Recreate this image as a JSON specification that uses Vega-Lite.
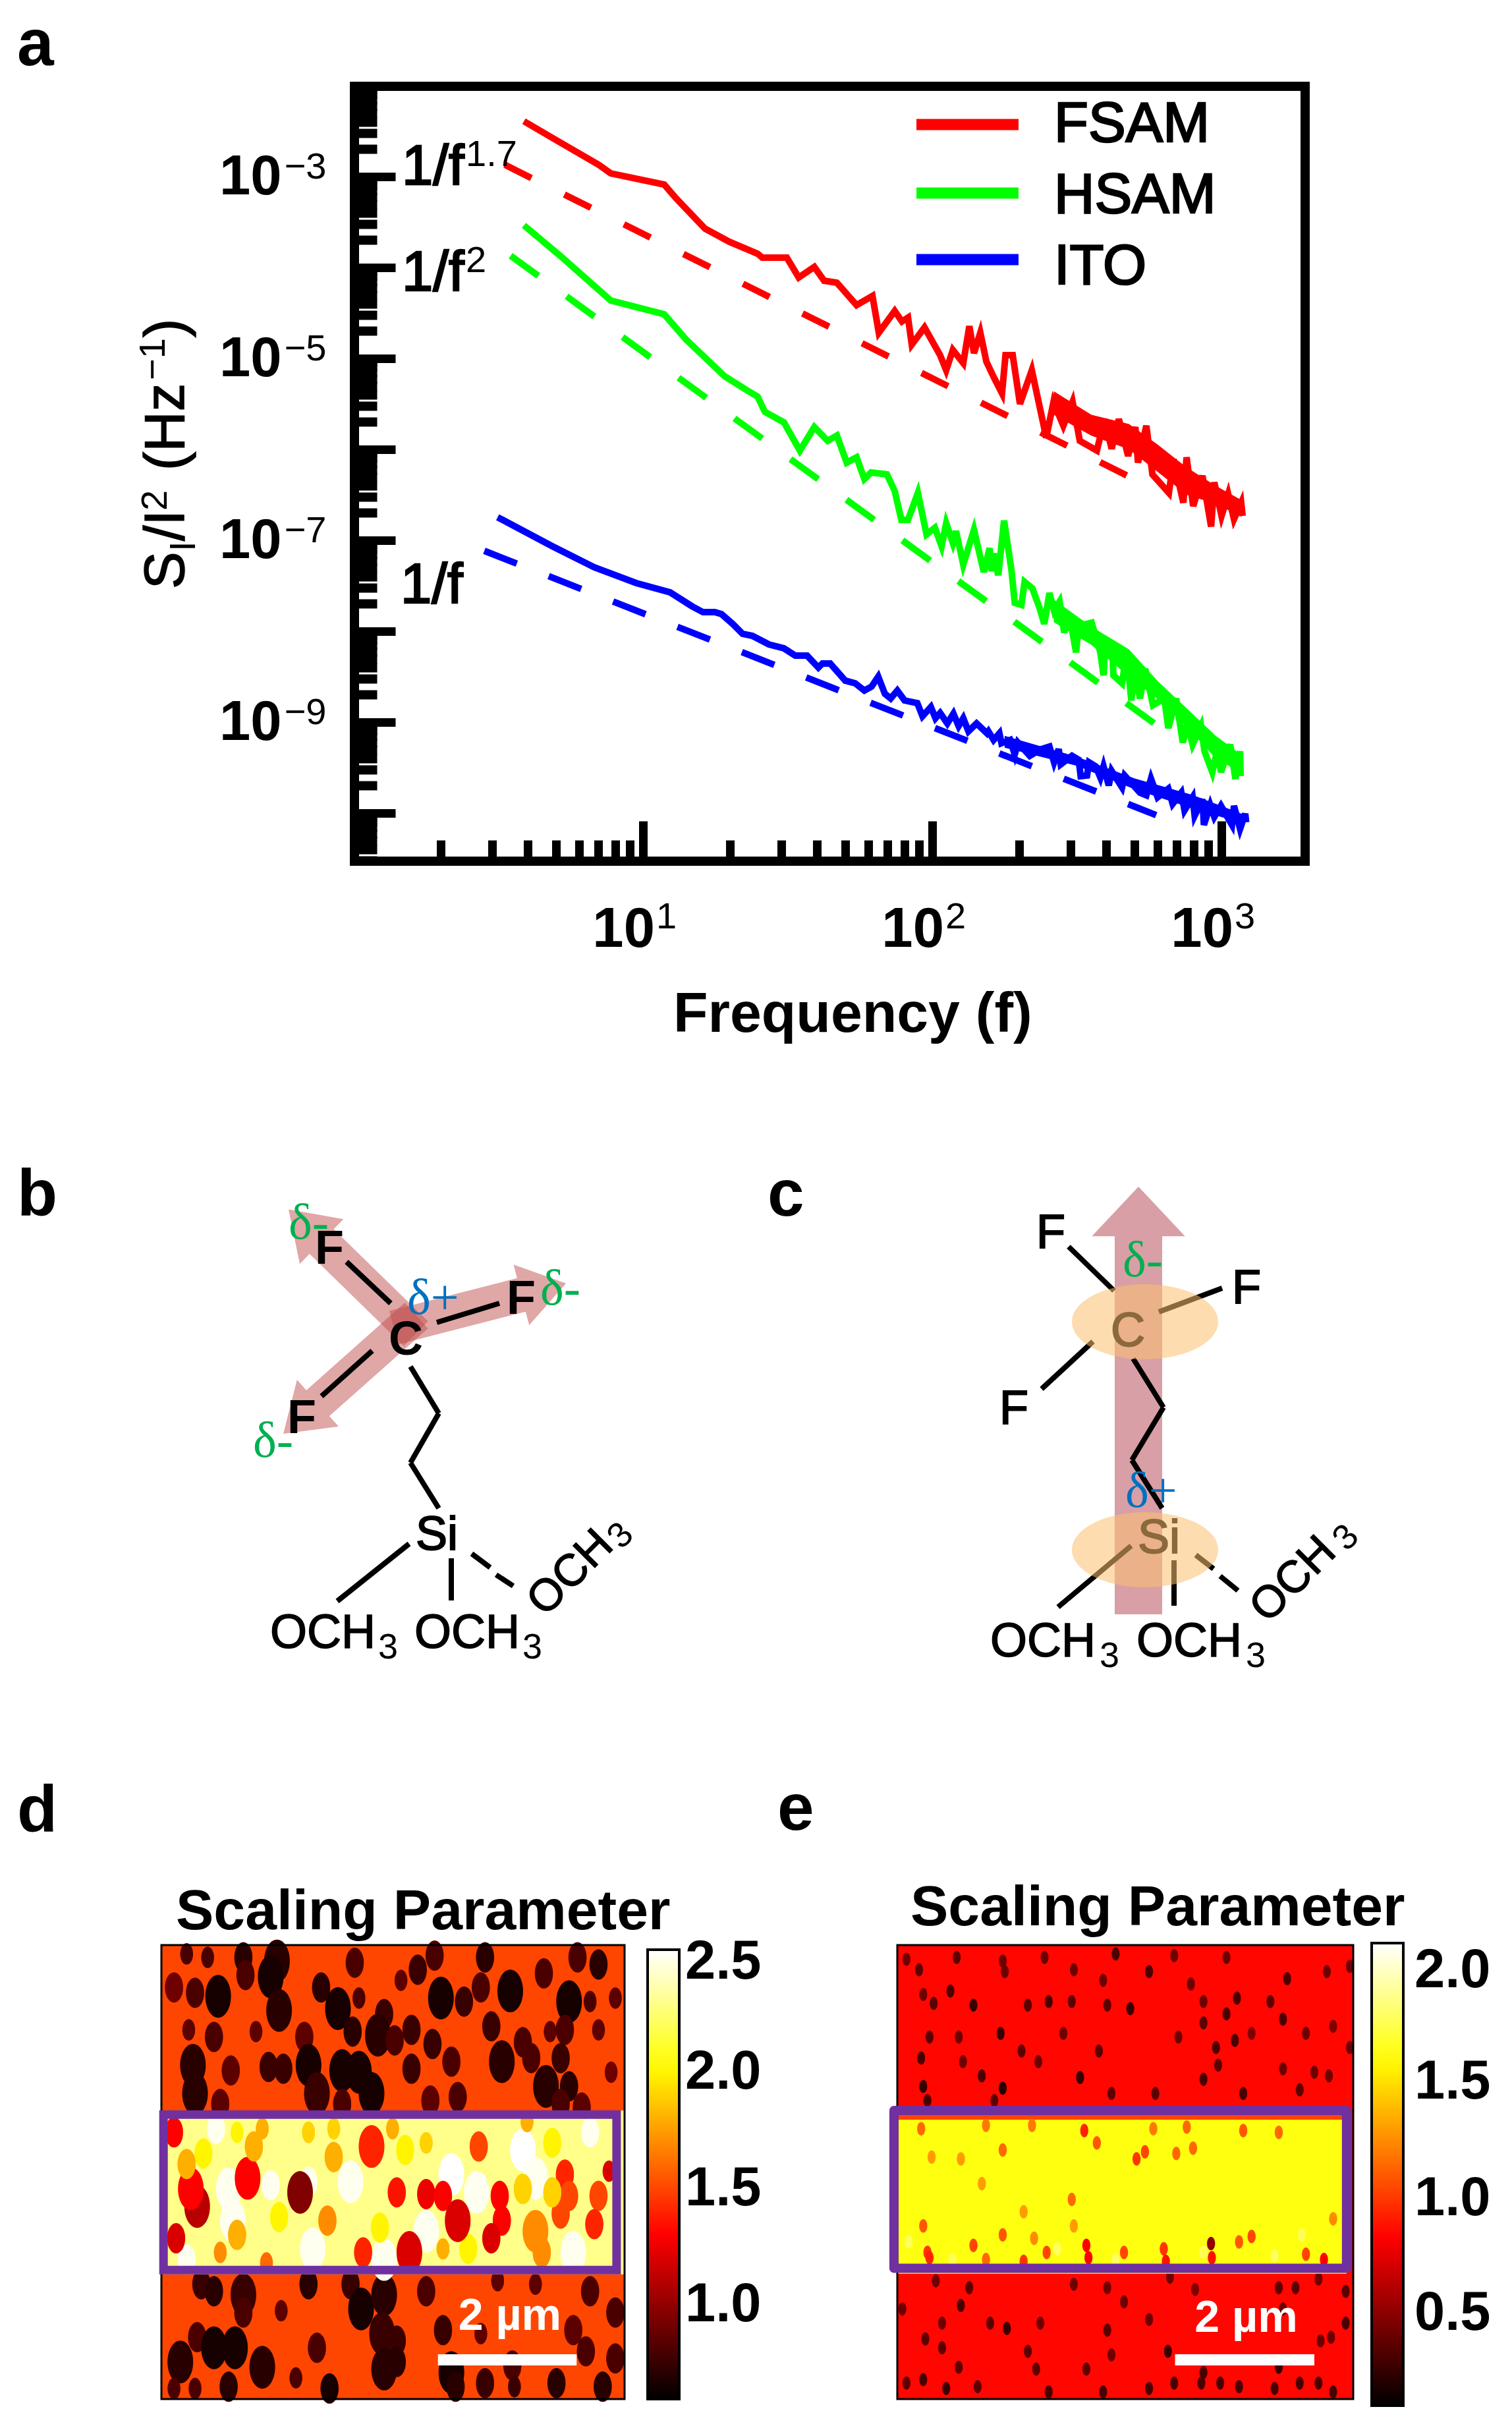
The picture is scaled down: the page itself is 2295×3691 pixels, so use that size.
{
"$schema":"https://vega.github.io/schema/vega-lite/v6.json",
"description":"Noise spectra, SAM dipole schematics and scaling parameter maps",
"width":2295,"height":3691,"padding":0,
"autosize":{"type":"fit","contains":"padding"},
"background":"white",
"config":{"font":"Liberation Sans","view":{"stroke":null}},
"datasets":{
"spectra":[
{"series":"FSAM","lf":0.588,"ls":-2.391},{"series":"FSAM","lf":0.697,"ls":-2.594},{"series":"FSAM","lf":0.847,"ls":-2.87},{"series":"FSAM","lf":0.888,"ls":-2.964},{"series":"FSAM","lf":1.073,"ls":-3.087},{"series":"FSAM","lf":1.114,"ls":-3.239},{"series":"FSAM","lf":1.214,"ls":-3.572},{"series":"FSAM","lf":1.298,"ls":-3.717},{"series":"FSAM","lf":1.396,"ls":-3.848},{"series":"FSAM","lf":1.412,"ls":-3.891},{"series":"FSAM","lf":1.497,"ls":-3.891},{"series":"FSAM","lf":1.538,"ls":-4.109},{"series":"FSAM","lf":1.592,"ls":-3.993},{"series":"FSAM","lf":1.626,"ls":-4.145},{"series":"FSAM","lf":1.67,"ls":-4.167},{"series":"FSAM","lf":1.738,"ls":-4.413},{"series":"FSAM","lf":1.793,"ls":-4.312},{"series":"FSAM","lf":1.815,"ls":-4.717},{"series":"FSAM","lf":1.87,"ls":-4.478},{"series":"FSAM","lf":1.895,"ls":-4.594},{"series":"FSAM","lf":1.916,"ls":-4.551},{"series":"FSAM","lf":1.929,"ls":-4.848},{"series":"FSAM","lf":1.973,"ls":-4.659},{"series":"FSAM","lf":2.027,"ls":-4.964},{"series":"FSAM","lf":2.048,"ls":-5.13},{"series":"FSAM","lf":2.071,"ls":-4.906},{"series":"FSAM","lf":2.107,"ls":-5.051},{"series":"FSAM","lf":2.128,"ls":-4.645},{"series":"FSAM","lf":2.144,"ls":-4.942},{"series":"FSAM","lf":2.166,"ls":-4.717},{"series":"FSAM","lf":2.187,"ls":-5.036},{"series":"FSAM","lf":2.212,"ls":-5.203},{"series":"FSAM","lf":2.241,"ls":-5.384},{"series":"FSAM","lf":2.253,"ls":-4.964},{"series":"FSAM","lf":2.278,"ls":-4.964},{"series":"FSAM","lf":2.303,"ls":-5.5},{"series":"FSAM","lf":2.344,"ls":-5.13},{"series":"FSAM","lf":2.369,"ls":-5.5},{"series":"FSAM","lf":2.394,"ls":-5.87},{"series":"FSAM","lf":2.419,"ls":-5.478},{"series":"FSAM","lf":2.453,"ls":-5.739},{"series":"FSAM","lf":2.485,"ls":-5.478},{"series":"FSAM","lf":2.51,"ls":-5.906},{"series":"FSAM","lf":2.569,"ls":-6.014},{"series":"FSAM","lf":2.595,"ls":-5.667},{"series":"FSAM","lf":2.62,"ls":-5.993},{"series":"FSAM","lf":2.645,"ls":-5.667},{"series":"FSAM","lf":2.677,"ls":-6.072},{"series":"FSAM","lf":2.702,"ls":-5.754},{"series":"FSAM","lf":2.711,"ls":-6.145},{"series":"FSAM","lf":2.74,"ls":-5.739},{"series":"FSAM","lf":2.761,"ls":-6.275},{"series":"FSAM","lf":2.818,"ls":-6.478},{"series":"FSAM","lf":2.834,"ls":-6.109},{"series":"FSAM","lf":2.868,"ls":-6.587},{"series":"FSAM","lf":2.879,"ls":-6.087},{"series":"FSAM","lf":2.902,"ls":-6.623},{"series":"FSAM","lf":2.934,"ls":-6.29},{"series":"FSAM","lf":2.964,"ls":-6.848},{"series":"FSAM","lf":2.975,"ls":-6.362},{"series":"FSAM","lf":3.0,"ls":-6.732},{"series":"FSAM","lf":3.023,"ls":-6.493},{"series":"FSAM","lf":3.043,"ls":-6.768},{"series":"FSAM","lf":3.068,"ls":-6.587},{"series":"FSAM","lf":3.073,"ls":-6.732},
{"series":"HSAM","lf":0.588,"ls":-3.536},{"series":"HSAM","lf":0.713,"ls":-3.87},{"series":"HSAM","lf":0.888,"ls":-4.362},{"series":"HSAM","lf":1.073,"ls":-4.514},{"series":"HSAM","lf":1.148,"ls":-4.79},{"series":"HSAM","lf":1.282,"ls":-5.196},{"series":"HSAM","lf":1.358,"ls":-5.348},{"series":"HSAM","lf":1.396,"ls":-5.42},{"series":"HSAM","lf":1.421,"ls":-5.587},{"series":"HSAM","lf":1.487,"ls":-5.703},{"series":"HSAM","lf":1.542,"ls":-6.014},{"series":"HSAM","lf":1.592,"ls":-5.754},{"series":"HSAM","lf":1.638,"ls":-5.906},{"series":"HSAM","lf":1.67,"ls":-5.848},{"series":"HSAM","lf":1.704,"ls":-6.145},{"series":"HSAM","lf":1.738,"ls":-6.087},{"series":"HSAM","lf":1.765,"ls":-6.326},{"series":"HSAM","lf":1.788,"ls":-6.254},{"series":"HSAM","lf":1.843,"ls":-6.275},{"series":"HSAM","lf":1.87,"ls":-6.457},{"series":"HSAM","lf":1.893,"ls":-6.775},{"series":"HSAM","lf":1.916,"ls":-6.775},{"series":"HSAM","lf":1.95,"ls":-6.478},{"series":"HSAM","lf":1.98,"ls":-6.935},{"series":"HSAM","lf":2.009,"ls":-6.862},{"series":"HSAM","lf":2.032,"ls":-7.065},{"series":"HSAM","lf":2.048,"ls":-6.812},{"series":"HSAM","lf":2.071,"ls":-7.029},{"series":"HSAM","lf":2.082,"ls":-6.899},{"series":"HSAM","lf":2.107,"ls":-7.268},{"series":"HSAM","lf":2.144,"ls":-6.884},{"series":"HSAM","lf":2.178,"ls":-7.348},{"series":"HSAM","lf":2.198,"ls":-7.087},{"series":"HSAM","lf":2.205,"ls":-7.341},{"series":"HSAM","lf":2.212,"ls":-7.145},{"series":"HSAM","lf":2.228,"ls":-7.384},{"series":"HSAM","lf":2.248,"ls":-6.783},{"series":"HSAM","lf":2.273,"ls":-7.312},{"series":"HSAM","lf":2.28,"ls":-7.529},{"series":"HSAM","lf":2.285,"ls":-7.688},{"series":"HSAM","lf":2.308,"ls":-7.71},{"series":"HSAM","lf":2.319,"ls":-7.457},{"series":"HSAM","lf":2.346,"ls":-7.529},{"series":"HSAM","lf":2.371,"ls":-7.746},{"series":"HSAM","lf":2.387,"ls":-7.92},{"series":"HSAM","lf":2.405,"ls":-7.58},{"series":"HSAM","lf":2.421,"ls":-7.775},{"series":"HSAM","lf":2.44,"ls":-7.674},{"series":"HSAM","lf":2.456,"ls":-8.014},{"series":"HSAM","lf":2.474,"ls":-7.819},{"series":"HSAM","lf":2.497,"ls":-8.232},{"series":"HSAM","lf":2.506,"ls":-7.942},{"series":"HSAM","lf":2.551,"ls":-7.906},{"series":"HSAM","lf":2.581,"ls":-8.232},{"series":"HSAM","lf":2.592,"ls":-8.486},{"series":"HSAM","lf":2.599,"ls":-8.109},{"series":"HSAM","lf":2.622,"ls":-8.138},{"series":"HSAM","lf":2.626,"ls":-8.486},{"series":"HSAM","lf":2.656,"ls":-8.572},{"series":"HSAM","lf":2.672,"ls":-8.232},{"series":"HSAM","lf":2.688,"ls":-8.761},{"series":"HSAM","lf":2.699,"ls":-8.428},{"series":"HSAM","lf":2.718,"ls":-8.739},{"series":"HSAM","lf":2.736,"ls":-8.413},{"series":"HSAM","lf":2.763,"ls":-8.812},{"series":"HSAM","lf":2.802,"ls":-8.739},{"series":"HSAM","lf":2.816,"ls":-9.065},{"series":"HSAM","lf":2.843,"ls":-8.739},{"series":"HSAM","lf":2.866,"ls":-9.225},{"series":"HSAM","lf":2.882,"ls":-9.007},{"series":"HSAM","lf":2.9,"ls":-9.246},{"series":"HSAM","lf":2.929,"ls":-9.043},{"series":"HSAM","lf":2.941,"ls":-9.319},{"series":"HSAM","lf":2.968,"ls":-9.551},{"series":"HSAM","lf":2.986,"ls":-9.297},{"series":"HSAM","lf":2.998,"ls":-9.551},{"series":"HSAM","lf":3.03,"ls":-9.246},{"series":"HSAM","lf":3.048,"ls":-9.623},{"series":"HSAM","lf":3.064,"ls":-9.319},{"series":"HSAM","lf":3.066,"ls":-9.594},
{"series":"ITO","lf":0.497,"ls":-6.746},{"series":"ITO","lf":0.686,"ls":-7.065},{"series":"ITO","lf":0.831,"ls":-7.297},{"series":"ITO","lf":0.977,"ls":-7.471},{"series":"ITO","lf":1.093,"ls":-7.572},{"series":"ITO","lf":1.169,"ls":-7.725},{"series":"ITO","lf":1.207,"ls":-7.79},{"series":"ITO","lf":1.248,"ls":-7.79},{"series":"ITO","lf":1.271,"ls":-7.812},{"series":"ITO","lf":1.31,"ls":-7.92},{"series":"ITO","lf":1.344,"ls":-8.029},{"series":"ITO","lf":1.378,"ls":-8.051},{"series":"ITO","lf":1.435,"ls":-8.145},{"series":"ITO","lf":1.487,"ls":-8.188},{"series":"ITO","lf":1.526,"ls":-8.268},{"series":"ITO","lf":1.567,"ls":-8.268},{"series":"ITO","lf":1.606,"ls":-8.399},{"series":"ITO","lf":1.62,"ls":-8.355},{"series":"ITO","lf":1.647,"ls":-8.355},{"series":"ITO","lf":1.699,"ls":-8.543},{"series":"ITO","lf":1.733,"ls":-8.572},{"series":"ITO","lf":1.765,"ls":-8.652},{"series":"ITO","lf":1.79,"ls":-8.609},{"series":"ITO","lf":1.813,"ls":-8.5},{"series":"ITO","lf":1.836,"ls":-8.688},{"series":"ITO","lf":1.856,"ls":-8.739},{"series":"ITO","lf":1.879,"ls":-8.652},{"series":"ITO","lf":1.904,"ls":-8.761},{"series":"ITO","lf":1.948,"ls":-8.79},{"series":"ITO","lf":1.966,"ls":-8.935},{"series":"ITO","lf":1.995,"ls":-8.833},{"series":"ITO","lf":2.011,"ls":-8.957},{"series":"ITO","lf":2.027,"ls":-8.899},{"series":"ITO","lf":2.052,"ls":-9.014},{"series":"ITO","lf":2.073,"ls":-8.906},{"series":"ITO","lf":2.091,"ls":-9.043},{"series":"ITO","lf":2.107,"ls":-8.957},{"series":"ITO","lf":2.125,"ls":-9.101},{"series":"ITO","lf":2.153,"ls":-9.014},{"series":"ITO","lf":2.189,"ls":-9.123},{"series":"ITO","lf":2.194,"ls":-9.101},{"series":"ITO","lf":2.212,"ls":-9.196},{"series":"ITO","lf":2.232,"ls":-9.123},{"series":"ITO","lf":2.239,"ls":-9.232},{"series":"ITO","lf":2.269,"ls":-9.196},{"series":"ITO","lf":2.285,"ls":-9.355},{"series":"ITO","lf":2.296,"ls":-9.225},{"series":"ITO","lf":2.337,"ls":-9.37},{"series":"ITO","lf":2.376,"ls":-9.297},{"series":"ITO","lf":2.405,"ls":-9.268},{"series":"ITO","lf":2.421,"ls":-9.442},{"series":"ITO","lf":2.437,"ls":-9.297},{"series":"ITO","lf":2.444,"ls":-9.464},{"series":"ITO","lf":2.483,"ls":-9.37},{"series":"ITO","lf":2.506,"ls":-9.413},{"series":"ITO","lf":2.513,"ls":-9.594},{"series":"ITO","lf":2.535,"ls":-9.587},{"series":"ITO","lf":2.542,"ls":-9.442},{"series":"ITO","lf":2.565,"ls":-9.486},{"series":"ITO","lf":2.581,"ls":-9.609},{"series":"ITO","lf":2.592,"ls":-9.486},{"series":"ITO","lf":2.61,"ls":-9.696},{"series":"ITO","lf":2.62,"ls":-9.536},{"series":"ITO","lf":2.656,"ls":-9.717},{"series":"ITO","lf":2.665,"ls":-9.587},{"series":"ITO","lf":2.718,"ls":-9.775},{"series":"ITO","lf":2.74,"ls":-9.804},{"series":"ITO","lf":2.756,"ls":-9.623},{"series":"ITO","lf":2.779,"ls":-9.826},{"series":"ITO","lf":2.816,"ls":-9.732},{"series":"ITO","lf":2.831,"ls":-9.899},{"series":"ITO","lf":2.861,"ls":-9.775},{"series":"ITO","lf":2.872,"ls":-9.971},{"series":"ITO","lf":2.9,"ls":-9.826},{"series":"ITO","lf":2.907,"ls":-10.029},{"series":"ITO","lf":2.934,"ls":-9.848},{"series":"ITO","lf":2.939,"ls":-10.13},{"series":"ITO","lf":2.961,"ls":-9.913},{"series":"ITO","lf":2.975,"ls":-10.043},{"series":"ITO","lf":2.998,"ls":-9.92},{"series":"ITO","lf":3.036,"ls":-10.13},{"series":"ITO","lf":3.043,"ls":-9.92},{"series":"ITO","lf":3.064,"ls":-10.174},{"series":"ITO","lf":3.082,"ls":-10.007},{"series":"ITO","lf":3.085,"ls":-10.101}
],
"bands":[
{"series":"FSAM","lf":2.42,"lo":-5.62,"hi":-5.36},{"series":"FSAM","lf":2.55,"lo":-5.85,"hi":-5.62},{"series":"FSAM","lf":2.68,"lo":-6.0,"hi":-5.72},{"series":"FSAM","lf":2.78,"lo":-6.25,"hi":-5.95},{"series":"FSAM","lf":2.88,"lo":-6.5,"hi":-6.2},{"series":"FSAM","lf":2.98,"lo":-6.6,"hi":-6.4},{"series":"FSAM","lf":3.07,"lo":-6.74,"hi":-6.56},
{"series":"HSAM","lf":2.42,"lo":-7.9,"hi":-7.65},{"series":"HSAM","lf":2.55,"lo":-8.15,"hi":-7.95},{"series":"HSAM","lf":2.68,"lo":-8.5,"hi":-8.2},{"series":"HSAM","lf":2.78,"lo":-8.75,"hi":-8.55},{"series":"HSAM","lf":2.88,"lo":-9.05,"hi":-8.85},{"series":"HSAM","lf":2.98,"lo":-9.4,"hi":-9.15},{"series":"HSAM","lf":3.065,"lo":-9.55,"hi":-9.35},
{"series":"ITO","lf":2.25,"lo":-9.28,"hi":-9.15},{"series":"ITO","lf":2.5,"lo":-9.48,"hi":-9.38},{"series":"ITO","lf":2.7,"lo":-9.74,"hi":-9.62},{"series":"ITO","lf":2.9,"lo":-9.95,"hi":-9.8},{"series":"ITO","lf":3.08,"lo":-10.12,"hi":-10.02}
],
"fits":[{"series":"FSAM","lf":0.522,"ls":-2.87},{"series":"FSAM","lf":2.743,"ls":-6.399},{"series":"HSAM","lf":0.542,"ls":-3.87},{"series":"HSAM","lf":2.774,"ls":-9.029},{"series":"ITO","lf":0.451,"ls":-7.116},{"series":"ITO","lf":2.774,"ls":-10.022}],
"dDark":[{"x":60,"y":25,"v":0.8,"a":1},{"x":110,"y":35,"v":0.8,"a":1},{"x":195,"y":35,"v":0.7,"a":2},{"x":275,"y":45,"v":0.7,"a":4},{"x":460,"y":50,"v":0.8,"a":2},{"x":650,"y":30,"v":0.8,"a":2},{"x":770,"y":35,"v":0.7,"a":2},{"x":990,"y":35,"v":0.8,"a":2},{"x":1040,"y":55,"v":0.7,"a":2},{"x":30,"y":120,"v":0.9,"a":2},{"x":80,"y":135,"v":0.8,"a":2},{"x":135,"y":145,"v":0.65,"a":4},{"x":200,"y":85,"v":0.8,"a":2},{"x":260,"y":90,"v":0.65,"a":4},{"x":280,"y":185,"v":0.7,"a":4},{"x":380,"y":120,"v":0.7,"a":2},{"x":420,"y":180,"v":0.65,"a":4},{"x":470,"y":150,"v":0.8,"a":1},{"x":530,"y":195,"v":0.75,"a":2},{"x":610,"y":70,"v":0.75,"a":2},{"x":570,"y":100,"v":0.85,"a":1},{"x":665,"y":150,"v":0.65,"a":4},{"x":720,"y":160,"v":0.75,"a":2},{"x":760,"y":120,"v":0.8,"a":2},{"x":830,"y":130,"v":0.65,"a":4},{"x":910,"y":80,"v":0.8,"a":2},{"x":970,"y":160,"v":0.65,"a":4},{"x":1080,"y":150,"v":0.85,"a":1},{"x":1020,"y":160,"v":0.8,"a":1},{"x":65,"y":240,"v":0.85,"a":1},{"x":125,"y":260,"v":0.8,"a":2},{"x":225,"y":245,"v":0.85,"a":1},{"x":340,"y":260,"v":0.85,"a":2},{"x":455,"y":245,"v":0.7,"a":2},{"x":515,"y":255,"v":0.7,"a":4},{"x":555,"y":270,"v":0.8,"a":2},{"x":595,"y":240,"v":0.75,"a":2},{"x":645,"y":280,"v":0.75,"a":2},{"x":785,"y":230,"v":0.75,"a":2},{"x":860,"y":275,"v":0.8,"a":2},{"x":925,"y":245,"v":0.85,"a":1},{"x":960,"y":240,"v":0.8,"a":2},{"x":1040,"y":240,"v":0.85,"a":1},{"x":75,"y":340,"v":0.7,"a":4},{"x":165,"y":355,"v":0.85,"a":2},{"x":255,"y":345,"v":0.75,"a":2},{"x":290,"y":350,"v":0.75,"a":2},{"x":350,"y":340,"v":0.65,"a":4},{"x":430,"y":355,"v":0.65,"a":4},{"x":470,"y":360,"v":0.65,"a":4},{"x":595,"y":350,"v":0.75,"a":2},{"x":690,"y":330,"v":0.8,"a":2},{"x":810,"y":330,"v":0.7,"a":4},{"x":880,"y":320,"v":0.8,"a":2},{"x":950,"y":320,"v":0.75,"a":2},{"x":80,"y":420,"v":0.7,"a":4},{"x":140,"y":450,"v":0.85,"a":2},{"x":370,"y":420,"v":0.75,"a":4},{"x":430,"y":450,"v":0.8,"a":2},{"x":500,"y":420,"v":0.65,"a":4},{"x":640,"y":440,"v":0.85,"a":2},{"x":705,"y":430,"v":0.8,"a":2},{"x":915,"y":400,"v":0.7,"a":4},{"x":970,"y":400,"v":0.7,"a":2},{"x":950,"y":450,"v":0.8,"a":2},{"x":1000,"y":460,"v":0.85,"a":2},{"x":1070,"y":360,"v":0.9,"a":1},
{"x":95,"y":960,"v":0.75,"a":2},{"x":125,"y":980,"v":0.7,"a":2},{"x":195,"y":990,"v":0.75,"a":4},{"x":350,"y":960,"v":0.7,"a":2},{"x":450,"y":960,"v":0.75,"a":2},{"x":475,"y":1030,"v":0.65,"a":4},{"x":530,"y":990,"v":0.7,"a":4},{"x":630,"y":980,"v":0.8,"a":2},{"x":1020,"y":980,"v":0.8,"a":2},{"x":890,"y":960,"v":0.85,"a":1},{"x":800,"y":950,"v":0.85,"a":1},{"x":1080,"y":1040,"v":0.8,"a":2},{"x":285,"y":1035,"v":0.85,"a":1},{"x":195,"y":1040,"v":0.8,"a":2},{"x":85,"y":1110,"v":0.8,"a":2},{"x":125,"y":1140,"v":0.65,"a":4},{"x":175,"y":1140,"v":0.65,"a":4},{"x":45,"y":1180,"v":0.7,"a":4},{"x":240,"y":1195,"v":0.7,"a":4},{"x":525,"y":1100,"v":0.75,"a":4},{"x":560,"y":1120,"v":0.75,"a":2},{"x":670,"y":1090,"v":0.75,"a":2},{"x":980,"y":1090,"v":0.85,"a":2},{"x":760,"y":1100,"v":0.85,"a":1},{"x":370,"y":1140,"v":0.8,"a":2},{"x":1010,"y":1150,"v":0.8,"a":2},{"x":530,"y":1200,"v":0.7,"a":4},{"x":560,"y":1180,"v":0.7,"a":2},{"x":690,"y":1210,"v":0.65,"a":4},{"x":835,"y":1190,"v":0.8,"a":2},{"x":1080,"y":1170,"v":0.8,"a":2},{"x":320,"y":1225,"v":0.8,"a":1},{"x":160,"y":1250,"v":0.7,"a":2},{"x":400,"y":1255,"v":0.65,"a":2},{"x":80,"y":1255,"v":0.8,"a":1},{"x":840,"y":1250,"v":0.75,"a":1},{"x":940,"y":1240,"v":0.7,"a":2},{"x":770,"y":1240,"v":0.75,"a":2},{"x":30,"y":1255,"v":0.8,"a":1},{"x":700,"y":1250,"v":0.7,"a":2},{"x":1050,"y":1250,"v":0.7,"a":2}],
"dCenter":[{"x":690,"y":650,"v":2.53,"a":4},{"x":860,"y":580,"v":2.53,"a":4},{"x":750,"y":700,"v":2.5,"a":4},{"x":160,"y":690,"v":2.5,"a":4},{"x":450,"y":670,"v":2.5,"a":4},{"x":360,"y":860,"v":2.5,"a":4},{"x":980,"y":870,"v":2.5,"a":4},{"x":60,"y":890,"v":2.5,"a":2},{"x":350,"y":670,"v":2.5,"a":2},{"x":630,"y":810,"v":2.5,"a":4},{"x":1020,"y":530,"v":2.5,"a":2},{"x":260,"y":680,"v":2.5,"a":2},{"x":130,"y":520,"v":2.5,"a":2},{"x":530,"y":890,"v":2.5,"a":4},{"x":890,"y":660,"v":2.5,"a":4},{"x":170,"y":780,"v":2.5,"a":4},{"x":100,"y":590,"v":2.0,"a":2},{"x":580,"y":580,"v":2.0,"a":2},{"x":930,"y":560,"v":2.0,"a":2},{"x":730,"y":860,"v":2.0,"a":2},{"x":180,"y":530,"v":2.0,"a":1},
{"x":85,"y":740,"v":1.1,"a":4},{"x":70,"y":690,"v":1.3,"a":4},{"x":330,"y":700,"v":0.95,"a":4},{"x":205,"y":660,"v":1.3,"a":4},{"x":500,"y":570,"v":1.4,"a":4},{"x":560,"y":700,"v":1.35,"a":2},{"x":630,"y":705,"v":1.25,"a":2},{"x":670,"y":710,"v":1.3,"a":2},{"x":705,"y":780,"v":1.2,"a":4},{"x":960,"y":650,"v":1.4,"a":2},{"x":970,"y":710,"v":1.5,"a":2},{"x":805,"y":710,"v":1.3,"a":2},{"x":810,"y":780,"v":1.3,"a":2},{"x":785,"y":830,"v":1.2,"a":2},{"x":1040,"y":710,"v":1.5,"a":2},{"x":1030,"y":790,"v":1.4,"a":2},{"x":590,"y":870,"v":1.2,"a":4},{"x":480,"y":870,"v":1.4,"a":2},{"x":395,"y":780,"v":1.7,"a":2},{"x":30,"y":530,"v":1.3,"a":2},{"x":35,"y":830,"v":1.2,"a":2},{"x":60,"y":620,"v":1.8,"a":2},{"x":220,"y":570,"v":1.8,"a":2},{"x":755,"y":570,"v":1.5,"a":2},{"x":410,"y":600,"v":1.8,"a":2},{"x":180,"y":820,"v":1.8,"a":2},{"x":890,"y":810,"v":1.7,"a":4},{"x":950,"y":760,"v":1.5,"a":2},{"x":905,"y":870,"v":1.7,"a":2},{"x":250,"y":900,"v":1.6,"a":1},{"x":1065,"y":640,"v":1.2,"a":1},{"x":140,"y":870,"v":1.7,"a":1},{"x":280,"y":770,"v":2.0,"a":2},{"x":550,"y":520,"v":1.8,"a":1},{"x":630,"y":560,"v":1.9,"a":1},{"x":870,"y":500,"v":1.8,"a":1},{"x":520,"y":800,"v":2.0,"a":2},{"x":670,"y":860,"v":1.8,"a":1},{"x":350,"y":530,"v":1.9,"a":1},{"x":860,"y":690,"v":1.9,"a":2},{"x":930,"y":700,"v":1.9,"a":2},{"x":240,"y":520,"v":1.8,"a":1},{"x":410,"y":520,"v":1.9,"a":1}],
"eDark":[{"x":22,"y":40,"v":0.4},{"x":52,"y":70,"v":0.35},{"x":142,"y":35,"v":0.35},{"x":127,"y":130,"v":0.3},{"x":182,"y":170,"v":0.25},{"x":252,"y":45,"v":0.4},{"x":257,"y":75,"v":0.4},{"x":352,"y":35,"v":0.4},{"x":422,"y":70,"v":0.4},{"x":522,"y":25,"v":0.3},{"x":602,"y":75,"v":0.3},{"x":662,"y":30,"v":0.4},{"x":787,"y":35,"v":0.4},{"x":932,"y":95,"v":0.3},{"x":1027,"y":75,"v":0.4},{"x":1082,"y":60,"v":0.4},{"x":62,"y":140,"v":0.4},{"x":87,"y":165,"v":0.35},{"x":312,"y":170,"v":0.35},{"x":362,"y":160,"v":0.3},{"x":417,"y":160,"v":0.35},{"x":492,"y":100,"v":0.4},{"x":502,"y":170,"v":0.35},{"x":557,"y":180,"v":0.25},{"x":702,"y":110,"v":0.4},{"x":732,"y":160,"v":0.4},{"x":812,"y":150,"v":0.3},{"x":892,"y":160,"v":0.35},{"x":787,"y":195,"v":0.3},{"x":922,"y":210,"v":0.3},{"x":977,"y":250,"v":0.4},{"x":77,"y":260,"v":0.35},{"x":147,"y":260,"v":0.4},{"x":247,"y":250,"v":0.25},{"x":297,"y":300,"v":0.35},{"x":337,"y":330,"v":0.4},{"x":397,"y":250,"v":0.4},{"x":482,"y":300,"v":0.35},{"x":672,"y":260,"v":0.4},{"x":732,"y":220,"v":0.35},{"x":762,"y":290,"v":0.3},{"x":807,"y":270,"v":0.3},{"x":847,"y":250,"v":0.45},{"x":1042,"y":230,"v":0.45},{"x":57,"y":320,"v":0.3},{"x":157,"y":330,"v":0.4},{"x":202,"y":370,"v":0.3},{"x":252,"y":405,"v":0.2},{"x":437,"y":375,"v":0.25},{"x":512,"y":420,"v":0.35},{"x":617,"y":420,"v":0.35},{"x":732,"y":380,"v":0.3},{"x":767,"y":340,"v":0.35},{"x":922,"y":350,"v":0.4},{"x":997,"y":360,"v":0.4},{"x":1032,"y":370,"v":0.4},{"x":62,"y":400,"v":0.25},{"x":72,"y":440,"v":0.3},{"x":827,"y":420,"v":0.3},{"x":962,"y":410,"v":0.35},{"x":232,"y":440,"v":0.35},{"x":1082,"y":290,"v":0.4},
{"x":172,"y":970,"v":0.35},{"x":152,"y":1020,"v":0.3},{"x":92,"y":950,"v":0.4},{"x":422,"y":960,"v":0.4},{"x":502,"y":970,"v":0.4},{"x":652,"y":940,"v":0.4},{"x":712,"y":975,"v":0.45},{"x":912,"y":970,"v":0.35},{"x":952,"y":970,"v":0.35},{"x":1007,"y":945,"v":0.4},{"x":1072,"y":980,"v":0.35},{"x":12,"y":1030,"v":0.4},{"x":67,"y":1115,"v":0.35},{"x":107,"y":1070,"v":0.4},{"x":222,"y":1070,"v":0.35},{"x":262,"y":1085,"v":0.25},{"x":342,"y":1070,"v":0.4},{"x":502,"y":1090,"v":0.35},{"x":542,"y":1010,"v":0.4},{"x":602,"y":1060,"v":0.4},{"x":922,"y":1030,"v":0.4},{"x":1072,"y":1070,"v":0.3},{"x":107,"y":1140,"v":0.35},{"x":147,"y":1195,"v":0.35},{"x":312,"y":1150,"v":0.35},{"x":332,"y":1200,"v":0.35},{"x":452,"y":1200,"v":0.35},{"x":512,"y":1160,"v":0.4},{"x":647,"y":1150,"v":0.25},{"x":732,"y":1210,"v":0.3},{"x":912,"y":1195,"v":0.25},{"x":1012,"y":1120,"v":0.4},{"x":1037,"y":1110,"v":0.4},{"x":22,"y":1240,"v":0.35},{"x":62,"y":1230,"v":0.3},{"x":117,"y":1255,"v":0.25},{"x":192,"y":1250,"v":0.35},{"x":362,"y":1265,"v":0.3},{"x":492,"y":1265,"v":0.3},{"x":602,"y":1255,"v":0.3},{"x":662,"y":1240,"v":0.3},{"x":727,"y":1240,"v":0.3},{"x":772,"y":1240,"v":0.3},{"x":817,"y":1250,"v":0.3},{"x":902,"y":1255,"v":0.3},{"x":962,"y":1240,"v":0.3},{"x":1007,"y":1240,"v":0.3},{"x":1042,"y":1265,"v":0.3}],
"eCenter":[{"x":57,"y":520,"v":1.1},{"x":212,"y":510,"v":1.15},{"x":322,"y":510,"v":1.15},{"x":447,"y":525,"v":0.9},{"x":477,"y":560,"v":1.05},{"x":612,"y":520,"v":1.15},{"x":692,"y":515,"v":1.1},{"x":827,"y":525,"v":1.05},{"x":912,"y":530,"v":1.1},{"x":252,"y":580,"v":1.1},{"x":572,"y":605,"v":0.95},{"x":592,"y":585,"v":1.0},{"x":667,"y":590,"v":1.1},{"x":707,"y":575,"v":1.1},{"x":82,"y":600,"v":1.25},{"x":152,"y":605,"v":1.25},{"x":417,"y":720,"v":1.1},{"x":202,"y":675,"v":1.25},{"x":302,"y":755,"v":1.25},{"x":62,"y":795,"v":1.05},{"x":72,"y":870,"v":0.95},{"x":77,"y":885,"v":0.9},{"x":182,"y":850,"v":1.0},{"x":252,"y":820,"v":1.05},{"x":327,"y":830,"v":1.2},{"x":357,"y":870,"v":1.0},{"x":452,"y":850,"v":0.8},{"x":457,"y":885,"v":0.8},{"x":542,"y":870,"v":1.0},{"x":637,"y":860,"v":0.95},{"x":642,"y":895,"v":0.85},{"x":750,"y":845,"v":0.5},{"x":752,"y":885,"v":0.85},{"x":817,"y":840,"v":1.05},{"x":847,"y":825,"v":1.0},{"x":977,"y":875,"v":1.0},{"x":1020,"y":890,"v":0.8},{"x":1042,"y":775,"v":1.2},{"x":302,"y":895,"v":0.95},{"x":212,"y":890,"v":1.1},{"x":422,"y":795,"v":1.25},{"x":27,"y":840,"v":1.72},{"x":382,"y":860,"v":1.72},{"x":522,"y":890,"v":1.72},{"x":967,"y":820,"v":1.7},{"x":732,"y":870,"v":1.7},{"x":902,"y":880,"v":1.72},{"x":132,"y":890,"v":1.7}]
},
"layer":[
{"data":{"values":[{"lf":1,"ls":-3}]},"mark":{"type":"point","opacity":0},
"encoding":{
"x":{"field":"lf","type":"quantitative","scale":{"domain":[0.002,3.289],"range":[538,1981],"nice":false,"zero":false},"axis":{"orient":"top","offset":-1307,"title":null,"grid":false,"domain":false,"labels":false,"tickSize":32,"tickWidth":13,"tickColor":"black","values":[0.301,0.477,0.602,0.699,0.778,0.845,0.903,0.954,1.301,1.477,1.602,1.699,1.778,1.845,1.903,1.954,2.301,2.477,2.602,2.699,2.778,2.845,2.903,2.954]}},
"y":{"field":"ls","type":"quantitative","scale":{"domain":[-10.529,-2.007],"range":[1307,131],"nice":false,"zero":false},"axis":{"orient":"right","offset":-1757,"title":null,"grid":false,"domain":false,"labels":false,"tickSize":34,"tickWidth":14,"tickColor":"black","values":[-2.699,-2.523,-2.398,-2.301,-2.222,-2.155,-2.097,-2.046,-3.699,-3.523,-3.398,-3.301,-3.222,-3.155,-3.097,-3.046,-4.699,-4.523,-4.398,-4.301,-4.222,-4.155,-4.097,-4.046,-5.699,-5.523,-5.398,-5.301,-5.222,-5.155,-5.097,-5.046,-6.699,-6.523,-6.398,-6.301,-6.222,-6.155,-6.097,-6.046,-7.699,-7.523,-7.398,-7.301,-7.222,-7.155,-7.097,-7.046,-8.699,-8.523,-8.398,-8.301,-8.222,-8.155,-8.097,-8.046,-9.699,-9.523,-9.398,-9.301,-9.222,-9.155,-9.097,-9.046,-10.523,-10.398,-10.301,-10.222,-10.155,-10.097,-10.046]}}}},
{"data":{"values":[{"lf":1,"ls":-3}]},"mark":{"type":"point","opacity":0},
"encoding":{
"x":{"field":"lf","type":"quantitative","scale":{"domain":[0.002,3.289],"range":[538,1981],"nice":false,"zero":false},"axis":{"orient":"top","offset":-1307,"title":null,"grid":false,"domain":false,"labels":false,"tickSize":61,"tickWidth":13,"tickColor":"black","values":[1,2,3]}},
"y":{"field":"ls","type":"quantitative","scale":{"domain":[-10.529,-2.007],"range":[1307,131],"nice":false,"zero":false},"axis":{"orient":"right","offset":-1757,"title":null,"grid":false,"domain":false,"labels":false,"tickSize":62,"tickWidth":13,"tickColor":"black","values":[-3,-4,-5,-6,-7,-8,-9,-10]}}}},
{"data":{"values":[{"lf":1,"ls":-3}]},"mark":{"type":"point","opacity":0},
"encoding":{
"x":{"field":"lf","type":"quantitative","scale":{"domain":[0.002,3.289],"range":[538,1981],"nice":false,"zero":false},"axis":{"orient":"bottom","offset":-2384,"title":null,"grid":false,"domain":false,"ticks":false,"tickSize":0,"labelPadding":129,"labelBaseline":"alphabetic","labelOffset":-30,"labelFontSize":85,"labelFontWeight":"bold","labelColor":"black","labelOverlap":false,"labelFlush":false,"values":[1,2,3],"labelExpr":"'10'"}},
"y":{"field":"ls","type":"quantitative","scale":{"domain":[-10.529,-2.007],"range":[1307,131],"nice":false,"zero":false},"axis":{"orient":"left","offset":-427,"title":null,"grid":false,"domain":false,"ticks":false,"tickSize":0,"labelPadding":0,"labelAlign":"right","labelBaseline":"middle","labelFontSize":85,"labelFontWeight":"bold","labelColor":"black","labelOverlap":false,"labelFlush":false,"values":[-3,-5,-7,-9],"labelExpr":"'10'"}}}},
{"data":{"values":[{"lf":1,"ls":-3}]},"mark":{"type":"point","opacity":0},
"encoding":{
"x":{"field":"lf","type":"quantitative","scale":{"domain":[0.002,3.289],"range":[538,1981],"nice":false,"zero":false},"axis":{"orient":"bottom","offset":-2384,"title":null,"grid":false,"domain":false,"ticks":false,"tickSize":0,"labelPadding":101,"labelBaseline":"alphabetic","labelOffset":35,"labelFontSize":56,"labelColor":"black","labelOverlap":false,"labelFlush":false,"values":[1,2,3],"labelExpr":"datum.value"}},
"y":{"field":"ls","type":"quantitative","scale":{"domain":[-10.529,-2.007],"range":[1307,131],"nice":false,"zero":false},"axis":{"orient":"left","offset":-495,"title":null,"grid":false,"domain":false,"ticks":false,"tickSize":0,"labelPadding":0,"labelAlign":"right","labelBaseline":"alphabetic","labelOffset":2,"labelFontSize":56,"labelColor":"black","labelOverlap":false,"labelFlush":false,"values":[-3,-5,-7,-9],"labelExpr":"'−'+abs(datum.value)"}}}},
{"encoding":{
"x":{"field":"lf","type":"quantitative","scale":{"domain":[0.002,3.289],"range":[538,1981],"nice":false,"zero":false},"axis":null},
"y":{"field":"ls","type":"quantitative","scale":{"domain":[-10.529,-2.007],"range":[1307,131],"nice":false,"zero":false},"axis":null},
"color":{"field":"series","type":"nominal","scale":{"domain":["FSAM","HSAM","ITO"],"range":["#ff0000","#00ff00","#0000ff"]},"legend":null}},
"layer":[
{"data":{"values":[{"lf":0.002,"lf2":3.289,"ls":-2.007,"ls2":-10.529}]},"mark":{"type":"rect","fill":"transparent","stroke":"black","strokeWidth":14},"encoding":{"x2":{"field":"lf2"},"y2":{"field":"ls2"},"color":{"value":"black"}}},
{"data":{"name":"bands"},"mark":{"type":"area"},"encoding":{"y":{"field":"lo","type":"quantitative","scale":{"domain":[-10.529,-2.007],"range":[1307,131],"nice":false,"zero":false},"axis":null},"y2":{"field":"hi"}}},
{"data":{"name":"spectra"},"mark":{"type":"line","strokeWidth":10,"strokeJoin":"miter","strokeCap":"butt"}}
]},
{"data":{"name":"fits"},"mark":{"type":"line","strokeWidth":10,"strokeCap":"butt"},
"encoding":{
"x":{"field":"lf","type":"quantitative","scale":{"domain":[0.002,3.289],"range":[538,1981],"nice":false,"zero":false},"axis":null},
"y":{"field":"ls","type":"quantitative","scale":{"domain":[-10.529,-2.007],"range":[1307,131],"nice":false,"zero":false},"axis":null},
"color":{"field":"series","type":"nominal","scale":{"domain":["FSAM","HSAM","ITO"],"range":["#ff0000","#00ff00","#0000ff"]},"legend":null},
"strokeDash":{"field":"series","type":"nominal","scale":{"domain":["FSAM","HSAM","ITO"],"range":[[45,56],[52,53],[53,52]]},"legend":null}}},
{"encoding":{
"x":{"field":"x","type":"quantitative","scale":{"domain":[0,229.5],"range":[0,2295],"nice":false,"zero":false},"axis":null},
"y":{"field":"y","type":"quantitative","scale":{"domain":[0,369.1],"range":[0,3691],"nice":false,"zero":false},"axis":null}},
"layer":[
{"data":{"values":[{"x":61.7,"y":201.0,"angle":314.3},{"x":61.7,"y":201.0,"angle":75.6},{"x":61.7,"y":201.0,"angle":228.4}]},"mark":{"type":"point","filled":true,"fill":"#c0504d","opacity":0.5,"size":250000,"shape":"M-0.105,0.08L-0.105,-0.72L-0.19,-0.72L0,-1L0.19,-0.72L0.105,-0.72L0.105,0.08Z"},"encoding":{"angle":{"field":"angle","type":"quantitative","scale":null}}},
{"data":{"values":[{"x":172.8,"y":245.0}]},"mark":{"type":"point","filled":true,"fill":"#b8505c","opacity":0.55,"size":1684804,"shape":"M-0.0555,0L-0.0555,-0.884L-0.109,-0.884L0,-1L0.109,-0.884L0.0555,-0.884L0.0555,0Z"}},
{"data":{"values":[{"x":52.6,"y":191.5,"x2":59.3,"y2":197.8},{"x":66.3,"y":200.7,"x2":75.8,"y2":197.8},{"x":48.8,"y":211.9,"x2":56.5,"y2":205.0},{"x":62.3,"y":207.4,"x2":66.6,"y2":214.5},{"x":66.6,"y":214.5,"x2":62.3,"y2":222.0},{"x":62.3,"y":222.0,"x2":66.6,"y2":228.9},{"x":62.1,"y":234.3,"x2":51.2,"y2":243.0},{"x":68.5,"y":236.5,"x2":68.5,"y2":242.9},{"x":71.6,"y":235.8,"x2":74.4,"y2":237.9},{"x":75.3,"y":239.0,"x2":77.9,"y2":240.7},{"x":162.2,"y":189.2,"x2":169.1,"y2":195.9},{"x":175.9,"y":199.1,"x2":185.5,"y2":195.5},{"x":165.9,"y":203.6,"x2":158.1,"y2":210.8},{"x":172.0,"y":206.2,"x2":176.6,"y2":213.6},{"x":176.6,"y":213.6,"x2":171.8,"y2":221.6},{"x":171.8,"y":221.6,"x2":176.4,"y2":228.9},{"x":171.7,"y":234.6,"x2":160.6,"y2":243.9},{"x":178.2,"y":236.8,"x2":178.2,"y2":243.7},{"x":181.5,"y":236.0,"x2":184.2,"y2":238.1},{"x":185.2,"y":239.2,"x2":187.9,"y2":241.4}]},"mark":{"type":"rule","color":"black","strokeWidth":8},"encoding":{"x2":{"field":"x2"},"y2":{"field":"y2"}}},
{"data":{"values":[{"x":50.0,"y":191.8,"t":"F"},{"x":79.1,"y":199.4,"t":"F"},{"x":45.8,"y":217.5,"t":"F"},{"x":61.6,"y":205.6,"t":"C"}]},"mark":{"type":"text","fontSize":72,"fontWeight":"bold","align":"center","baseline":"alphabetic","color":"black"},"encoding":{"text":{"field":"t"}}},
{"data":{"values":[{"x":159.5,"y":189.4,"t":"F"},{"x":189.2,"y":197.8,"t":"F"},{"x":153.9,"y":216.1,"t":"F"},{"x":171.2,"y":204.3,"t":"C"},{"x":66.3,"y":235.2,"t":"Si"},{"x":175.9,"y":235.7,"t":"Si"}]},"mark":{"type":"text","fontSize":72,"align":"center","baseline":"alphabetic","color":"black","stroke":"black","strokeWidth":2},"encoding":{"text":{"field":"t"}}},
{"data":{"values":[{"x":41.0,"y":250.1,"t":"OCH"},{"x":62.9,"y":250.1,"t":"OCH"},{"x":150.3,"y":251.4,"t":"OCH"},{"x":172.5,"y":251.4,"t":"OCH"}]},"mark":{"type":"text","fontSize":72,"align":"left","baseline":"alphabetic","color":"black","stroke":"black","strokeWidth":1.5},"encoding":{"text":{"field":"t"}}},
{"data":{"values":[{"x":57.4,"y":251.7,"t":"3"},{"x":79.3,"y":251.7,"t":"3"},{"x":166.9,"y":253.0,"t":"3"},{"x":189.1,"y":253.0,"t":"3"}]},"mark":{"type":"text","fontSize":54,"align":"left","baseline":"alphabetic","color":"black"},"encoding":{"text":{"field":"t"}}},
{"data":{"values":[{"x":82.7,"y":245.5,"t":"OCH"},{"x":192.4,"y":246.5,"t":"OCH"}]},"mark":{"type":"text","fontSize":68,"angle":315,"align":"left","baseline":"alphabetic","color":"black","stroke":"black","strokeWidth":1.5},"encoding":{"text":{"field":"t"}}},
{"data":{"values":[{"x":94.3,"y":235.3,"t":"3"},{"x":204.4,"y":235.6,"t":"3"}]},"mark":{"type":"text","fontSize":54,"angle":315,"align":"left","baseline":"alphabetic","color":"black"},"encoding":{"text":{"field":"t"}}},
{"data":{"values":[{"x":173.8,"y":200.6},{"x":173.8,"y":235.2}]},"mark":{"type":"point","filled":true,"fill":"#fcc070","opacity":0.55,"size":49284,"shape":"M-1,0A1,0.514,0,1,1,1,0A1,0.514,0,1,1,-1,0Z"}},
{"data":{"values":[{"x":43.8,"y":188.0,"t":"δ-"},{"x":82.0,"y":198.0,"t":"δ-"},{"x":38.4,"y":221.1,"t":"δ-"},{"x":170.4,"y":193.7,"t":"δ-"}]},"mark":{"type":"text","font":"Liberation Serif","fontSize":76,"align":"left","baseline":"alphabetic","color":"#00b050"},"encoding":{"text":{"field":"t"}}},
{"data":{"values":[{"x":61.8,"y":199.4,"t":"δ+"},{"x":170.8,"y":228.7,"t":"δ+"}]},"mark":{"type":"text","font":"Liberation Serif","fontSize":76,"align":"left","baseline":"alphabetic","color":"#0070c0"},"encoding":{"text":{"field":"t"}}},
{"data":{"values":[{"x":2.6,"y":9.9,"t":"a"},{"x":2.6,"y":184.5,"t":"b"},{"x":116.5,"y":184.5,"t":"c"},{"x":2.6,"y":278.0,"t":"d"},{"x":118.0,"y":277.7,"t":"e"}]},"mark":{"type":"text","fontSize":100,"fontWeight":"bold","align":"left","baseline":"alphabetic","color":"black"},"encoding":{"text":{"field":"t"}}},
{"data":{"values":[{"x":26.7,"y":292.8,"t":"Scaling Parameter"},{"x":138.2,"y":292.2,"t":"Scaling Parameter"},{"x":102.2,"y":156.6,"t":"Frequency (f)"}]},"mark":{"type":"text","fontSize":86,"fontWeight":"bold","align":"left","baseline":"alphabetic","color":"black"},"encoding":{"text":{"field":"t"}}},
{"data":{"values":[{"x":61.0,"y":28.0,"t":"1/f"},{"x":61.0,"y":44.1,"t":"1/f"},{"x":60.8,"y":91.5,"t":"1/f"},{"x":160.0,"y":21.5,"t":"FSAM"},{"x":160.0,"y":32.3,"t":"HSAM"},{"x":160.0,"y":43.1,"t":"ITO"}]},"mark":{"type":"text","fontSize":85,"align":"left","baseline":"alphabetic","color":"black","stroke":"black","strokeWidth":2.5},"encoding":{"text":{"field":"t"}}},
{"data":{"values":[{"x":70.7,"y":25.2,"t":"1.7"},{"x":70.7,"y":41.3,"t":"2"}]},"mark":{"type":"text","fontSize":56,"align":"left","baseline":"alphabetic","color":"black"},"encoding":{"text":{"field":"t"}}},
{"data":{"values":[{"x":27.9,"y":89.4,"t":"S"},{"x":27.9,"y":82.1,"t":"/I"},{"x":27.9,"y":71.4,"t":"(Hz"},{"x":27.9,"y":51.2,"t":")"}]},"mark":{"type":"text","fontSize":85,"angle":270,"align":"left","baseline":"alphabetic","color":"black","stroke":"black","strokeWidth":1.5},"encoding":{"text":{"field":"t"}}},
{"data":{"values":[{"x":29.6,"y":83.7,"t":"I"},{"x":25.3,"y":77.5,"t":"2"},{"x":25.0,"y":57.7,"t":"−1"}]},"mark":{"type":"text","fontSize":56,"angle":270,"align":"left","baseline":"alphabetic","color":"black"},"encoding":{"text":{"field":"t"}}},
{"data":{"values":[{"x":139.1,"x2":154.6,"y":18.9,"series":"FSAM"},{"x":139.1,"x2":154.6,"y":29.3,"series":"HSAM"},{"x":139.1,"x2":154.6,"y":39.4,"series":"ITO"}]},"mark":{"type":"rule","strokeWidth":17},"encoding":{"x2":{"field":"x2"},"color":{"field":"series","type":"nominal","scale":{"domain":["FSAM","HSAM","ITO"],"range":["#ff0000","#00ff00","#0000ff"]},"legend":null}}},
{"data":{"values":[{"x":104.0,"y":300.3,"t":"2.5"},{"x":104.0,"y":317.0,"t":"2.0"},{"x":104.0,"y":334.7,"t":"1.5"},{"x":104.0,"y":352.3,"t":"1.0"},{"x":214.7,"y":301.6,"t":"2.0"},{"x":214.7,"y":318.5,"t":"1.5"},{"x":214.7,"y":336.2,"t":"1.0"},{"x":214.7,"y":353.6,"t":"0.5"}]},"mark":{"type":"text","fontSize":83,"fontWeight":"bold","align":"left","baseline":"alphabetic","color":"black"},"encoding":{"text":{"field":"t"}}}
]},
{"encoding":{
"x":{"field":"x","type":"quantitative","scale":{"domain":[0,1102],"range":[245,948],"nice":false,"zero":false},"axis":null},
"y":{"field":"y","type":"quantitative","scale":{"domain":[0,1285],"range":[2952,3641],"nice":false,"zero":false},"axis":null}},
"layer":[
{"data":{"values":[{"x":0,"x2":1102,"y":0,"y2":1285,"v":1.5}]},"mark":{"type":"rect"},"encoding":{"x2":{"field":"x2"},"y2":{"field":"y2"},"color":{"field":"v","type":"quantitative","scale":{"domain":[0.59,1.3,2.03,2.53],"range":["#000000","#ff0000","#ffff00","#ffffff"],"interpolate":"rgb"},"legend":{"orient":"none","legendX":983,"legendY":2959,"title":null,"padding":0,"gradientLength":682,"gradientThickness":48,"gradientStrokeColor":"black","gradientStrokeWidth":4,"labelOpacity":0,"labelFontSize":10,"values":[1,2.5]}}}},
{"data":{"name":"dDark"},"mark":{"type":"point","filled":true,"fill":"#e02000","opacity":1,"shape":"M-0.6,0A0.6,1,0,1,1,0.6,0A0.6,1,0,1,1,-0.6,0Z"},"encoding":{"size":{"field":"a","type":"quantitative","scale":{"domain":[0,4],"range":[0,4200]},"legend":null}}},
{"data":{"name":"dDark"},"mark":{"type":"point","filled":true,"opacity":1,"shape":"M-0.6,0A0.6,1,0,1,1,0.6,0A0.6,1,0,1,1,-0.6,0Z"},"encoding":{"size":{"field":"a","type":"quantitative","scale":{"domain":[0,4],"range":[0,2300]},"legend":null},"color":{"field":"v","type":"quantitative","scale":{"domain":[0.59,1.3,2.03,2.53],"range":["#000000","#ff0000","#ffff00","#ffffff"],"interpolate":"rgb"}}}},
{"data":{"values":[{"x":0,"x2":1102,"y":468,"y2":932,"v":2.3}]},"mark":{"type":"rect"},"encoding":{"x2":{"field":"x2"},"y2":{"field":"y2"},"color":{"field":"v","type":"quantitative","scale":{"domain":[0.59,1.3,2.03,2.53],"range":["#000000","#ff0000","#ffff00","#ffffff"],"interpolate":"rgb"}}}},
{"data":{"name":"dCenter"},"transform":[{"filter":"datum.v<1.95"}],"mark":{"type":"point","filled":true,"fill":"#ffc400","opacity":1,"shape":"M-0.6,0A0.6,1,0,1,1,0.6,0A0.6,1,0,1,1,-0.6,0Z"},"encoding":{"size":{"field":"a","type":"quantitative","scale":{"domain":[0,4],"range":[0,5000]},"legend":null}}},
{"data":{"name":"dCenter"},"mark":{"type":"point","filled":true,"opacity":1,"shape":"M-0.6,0A0.6,1,0,1,1,0.6,0A0.6,1,0,1,1,-0.6,0Z"},"encoding":{"size":{"field":"a","type":"quantitative","scale":{"domain":[0,4],"range":[0,2800]},"legend":null},"color":{"field":"v","type":"quantitative","scale":{"domain":[0.59,1.3,2.03,2.53],"range":["#000000","#ff0000","#ffff00","#ffffff"],"interpolate":"rgb"}}}},
{"data":{"values":[{"x":0,"x2":1102,"y":0,"y2":1285}]},"mark":{"type":"rect","fill":"transparent","stroke":"black","strokeWidth":3},"encoding":{"x2":{"field":"x2"},"y2":{"field":"y2"}}},
{"data":{"values":[{"x":5,"x2":1083,"y":480,"y2":920}]},"mark":{"type":"rect","fill":"transparent","stroke":"#7030a0","strokeWidth":13},"encoding":{"x2":{"field":"x2"},"y2":{"field":"y2"}}},
{"data":{"values":[{"x":658,"x2":988,"y":1158,"y2":1190}]},"mark":{"type":"rect","fill":"white"},"encoding":{"x2":{"field":"x2"},"y2":{"field":"y2"}}},
{"data":{"values":[{"x":829,"y":1090,"t":"2 µm"}]},"mark":{"type":"text","fontSize":68,"fontWeight":"bold","align":"center","baseline":"alphabetic","color":"white"},"encoding":{"text":{"field":"t"}}}
]},
{"encoding":{
"x":{"field":"x","type":"quantitative","scale":{"domain":[0,1],"range":[983,1031],"nice":false,"zero":false},"axis":null},
"y":{"field":"y","type":"quantitative","scale":{"domain":[0.59,2.53],"range":[3641,2959],"nice":false,"zero":false},"axis":null},
"x2":{"field":"x2"}},
"data":{"values":[{"y":2.5,"x":0,"x2":0.18},{"y":2.5,"x":0.82,"x2":1},{"y":2,"x":0,"x2":0.18},{"y":2,"x":0.82,"x2":1},{"y":1.5,"x":0,"x2":0.18},{"y":1.5,"x":0.82,"x2":1},{"y":1,"x":0,"x2":0.18},{"y":1,"x":0.82,"x2":1}]},
"mark":{"type":"rule","color":"black","strokeWidth":3}},
{"encoding":{
"x":{"field":"x","type":"quantitative","scale":{"domain":[0,1090],"range":[1362,2054],"nice":false,"zero":false},"axis":null},
"y":{"field":"y","type":"quantitative","scale":{"domain":[0,1285],"range":[2952,3641],"nice":false,"zero":false},"axis":null}},
"layer":[
{"data":{"values":[{"x":0,"x2":1090,"y":0,"y2":1285,"v":0.82}]},"mark":{"type":"rect"},"encoding":{"x2":{"field":"x2"},"y2":{"field":"y2"},"color":{"field":"v","type":"quantitative","scale":{"domain":[0.095,0.8,1.54,2.03],"range":["#000000","#ff0000","#ffff00","#ffffff"],"interpolate":"rgb"},"legend":{"orient":"none","legendX":2082,"legendY":2949,"title":null,"padding":0,"gradientLength":702,"gradientThickness":48,"gradientStrokeColor":"black","gradientStrokeWidth":4,"labelOpacity":0,"labelFontSize":10,"values":[0.5,2]}}}},
{"data":{"name":"eDark"},"mark":{"type":"point","filled":true,"opacity":1,"shape":"M-0.6,0A0.6,1,0,1,1,0.6,0A0.6,1,0,1,1,-0.6,0Z","size":400},"encoding":{"color":{"field":"v","type":"quantitative","scale":{"domain":[0.095,0.8,1.54,2.03],"range":["#000000","#ff0000","#ffff00","#ffffff"],"interpolate":"rgb"}}}},
{"data":{"values":[{"x":0,"x2":1074,"y":460,"y2":930,"v":1.57},{"x":0,"x2":1074,"y":480,"y2":494,"v":1.0}]},"mark":{"type":"rect"},"encoding":{"x2":{"field":"x2"},"y2":{"field":"y2"},"color":{"field":"v","type":"quantitative","scale":{"domain":[0.095,0.8,1.54,2.03],"range":["#000000","#ff0000","#ffff00","#ffffff"],"interpolate":"rgb"}}}},
{"data":{"name":"eCenter"},"mark":{"type":"point","filled":true,"opacity":1,"shape":"M-0.6,0A0.6,1,0,1,1,0.6,0A0.6,1,0,1,1,-0.6,0Z","size":420},"encoding":{"color":{"field":"v","type":"quantitative","scale":{"domain":[0.095,0.8,1.54,2.03],"range":["#000000","#ff0000","#ffff00","#ffffff"],"interpolate":"rgb"}}}},
{"data":{"values":[{"x":0,"x2":1090,"y":0,"y2":1285}]},"mark":{"type":"rect","fill":"transparent","stroke":"black","strokeWidth":3},"encoding":{"x2":{"field":"x2"},"y2":{"field":"y2"}}},
{"data":{"values":[{"x":-8,"x2":1074,"y":468,"y2":915}]},"mark":{"type":"rect","fill":"transparent","stroke":"#7030a0","strokeWidth":14,"strokeJoin":"round"},"encoding":{"x2":{"field":"x2"},"y2":{"field":"y2"}}},
{"data":{"values":[{"x":664,"x2":997,"y":1158,"y2":1190}]},"mark":{"type":"rect","fill":"white"},"encoding":{"x2":{"field":"x2"},"y2":{"field":"y2"}}},
{"data":{"values":[{"x":834,"y":1095,"t":"2 µm"}]},"mark":{"type":"text","fontSize":68,"fontWeight":"bold","align":"center","baseline":"alphabetic","color":"white"},"encoding":{"text":{"field":"t"}}}
]},
{"encoding":{
"x":{"field":"x","type":"quantitative","scale":{"domain":[0,1],"range":[2082,2130],"nice":false,"zero":false},"axis":null},
"y":{"field":"y","type":"quantitative","scale":{"domain":[0.095,2.03],"range":[3651,2949],"nice":false,"zero":false},"axis":null},
"x2":{"field":"x2"}},
"data":{"values":[{"y":2,"x":0,"x2":0.18},{"y":2,"x":0.82,"x2":1},{"y":1.5,"x":0,"x2":0.18},{"y":1.5,"x":0.82,"x2":1},{"y":1,"x":0,"x2":0.18},{"y":1,"x":0.82,"x2":1},{"y":0.5,"x":0,"x2":0.18},{"y":0.5,"x":0.82,"x2":1}]},
"mark":{"type":"rule","color":"black","strokeWidth":3}}
],
"resolve":{"scale":{"x":"independent","y":"independent","color":"independent","size":"independent","strokeDash":"independent"}}
}
